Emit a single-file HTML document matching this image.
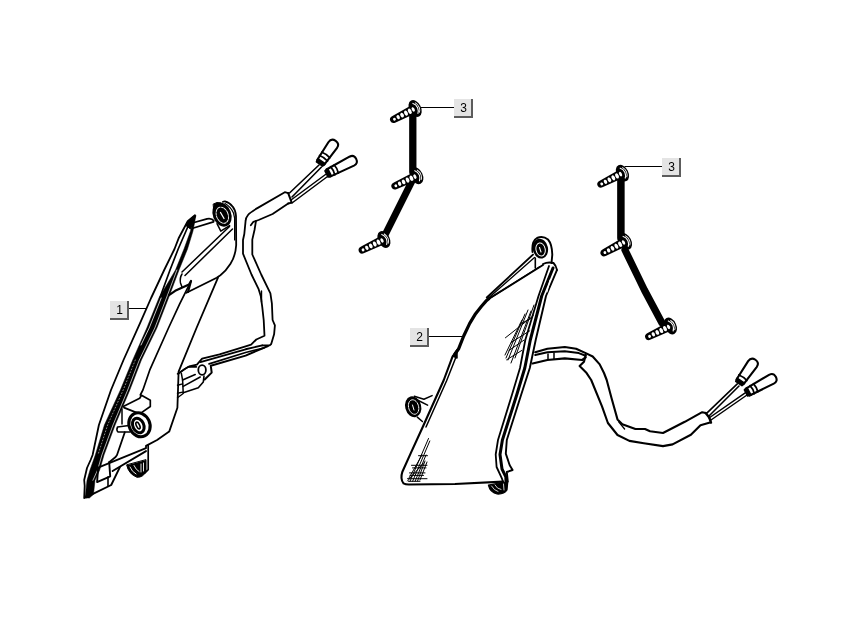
<!DOCTYPE html>
<html><head><meta charset="utf-8">
<style>
html,body{margin:0;padding:0;background:#fff;width:854px;height:620px;overflow:hidden}
svg{position:absolute;left:0;top:0}
.lbl{position:absolute;box-sizing:border-box;width:19px;height:19px;padding-left:2px;background:#e4e4e4;border-right:2px solid #5c5c5c;border-bottom:2px solid #5c5c5c;font-family:"Liberation Sans",sans-serif;font-size:12px;line-height:19px;text-align:center;color:#000;will-change:transform}
</style></head><body>
<svg width="854" height="620" viewBox="0 0 854 620">

<g fill="none" stroke="#000" stroke-linecap="round" stroke-linejoin="round">
<!-- ===== PART 1 ===== -->
<!-- blade outer line -->
<path d="M194.9,215.3 L187.7,221.3 L178.9,237.7 L174.5,249 L164.2,270 L151.1,298 L140.5,322.2 L123.5,360 L111,390 L98.9,425 L92.6,455 L90.6,460 L87,468 L84.2,480 L84.7,486 L84.2,498" stroke-width="1.8"/>
<!-- line 2 -->
<path d="M189.5,223 L178.2,249 L170,270 L159.8,298" stroke-width="1.7"/>
<!-- band -->
<path d="M194.3,216 L190.5,231 L184,249 L175.5,270 L158.9,298 L146.8,328 L132.7,360 L120.4,390 L104.4,425 L95.3,455 L90,470 L87,480.3 L85.5,494.3 L84.5,498 L89.4,498 L93.5,494.3 L95,480.3 L99.7,470 L104,455 L115.1,425 L129.8,390 L141.4,360 L156.9,328 L168.5,298 L179,270 L187.5,249 L193,231 L195.8,216 Z" fill="#000" stroke="#000" stroke-width="0.5"/>
<path d="M176.9,270 L166.4,298 L154.8,328 L139.3,360 L127.7,390 L113.0,425 L101.9,455 L97.6,470 L92.9,480.3" stroke="#fff" stroke-width="0.7"/>
<path d="M161.2,298 L149.2,328 L141,345" stroke="#fff" stroke-width="0.8"/>
<path d="M135.3,360 L123.2,390 L107.6,425 L97.9,455" stroke="#fff" stroke-width="0.55" stroke-dasharray="1 2.2"/>
<!-- line 3 -->
<path d="M190.9,281.4 L179.7,303.8 L168.5,328 L149.7,370.2 L142.9,390 L140.3,395" stroke-width="1.7"/>
<!-- notch -->
<path d="M169,295.2 L175.2,290.8 L189,284.5 L191,281 L188,292" stroke-width="2.2"/>
<path d="M182,274 Q179.5,278 180.5,283 L182,287" stroke-width="1.5"/>
<!-- top cylinder bar near tip -->
<path d="M194,222.5 L207,218.8 Q212,218 213.8,220.8" stroke-width="1.8"/>
<path d="M193.5,228 L213.5,221.8" stroke-width="1.8"/>
<path d="M194.9,215.3 L187.7,221.3 L185.8,225.5 L190.5,229 L195.5,216 Z" fill="#000" stroke="#000" stroke-width="1"/>
<!-- eye tab outline -->
<path d="M223,201.8 Q224,201.3 225,201.4 Q229.5,202.5 232.7,206.7 Q235.5,210 236,216 L236.2,245 Q235.5,256 230.5,263.8 Q226,271 220.4,275.2 L216.7,277.7 L186.5,292.8" stroke-width="1.8"/>
<path d="M225,203.5 Q231,207 233.5,213 L234.6,218 L234.6,240" stroke-width="1.2"/>
<!-- eye ring -->
<ellipse cx="222" cy="214.6" rx="9.2" ry="12.4" transform="rotate(-22 222 214.6)" fill="#000" stroke="none"/>
<path d="M213.5,204 L217,202.5 L221,203 L214,210 Z" fill="#000"/>
<ellipse cx="222.3" cy="215.2" rx="5.8" ry="8.4" transform="rotate(-22 222.3 215.2)" stroke="#fff" stroke-width="0.9" stroke-dasharray="2.5 1"/>
<path d="M220.5,212.5 L224,218.5" stroke="#fff" stroke-width="1.3"/>
<path d="M217,223.7 L220.8,231.2 L229.6,225.6" stroke-width="1.5"/>
<!-- grommet bar -->
<path d="M229.5,226.5 L182,272" stroke-width="1.5"/>
<path d="M232.5,229 L185,275.5" stroke-width="1.5"/>
<!-- body right edge -->
<path d="M218,277.7 L196.5,328 L178.6,371.7 L177.4,407.7 L169.2,431.6 L157.1,440 L146,445.9 L146,448.2 L98.1,467.6" stroke-width="1.8"/>
<!-- boss -->
<path d="M123.3,406.4 L139.7,398.2 L141.5,395.2 L150.3,400.2 L150.3,406.5 L139.7,413.9 L124,407.6" stroke-width="1.7"/>
<path d="M122,408.9 L122,424" stroke-width="1.5"/>
<ellipse cx="139.5" cy="424.8" rx="10.3" ry="12.3" transform="rotate(-25 139.5 424.8)" stroke-width="3.1" fill="#fff"/>
<ellipse cx="138.3" cy="425.5" rx="5.4" ry="7.6" transform="rotate(-25 138.3 425.5)" stroke-width="3"/>
<ellipse cx="138" cy="425.5" rx="1.6" ry="3.6" transform="rotate(-25 138 425.5)" stroke-width="1.6"/>
<path d="M117.6,427 L129,425.5 M118,432 L130,432 M117.6,427 Q116,430 118,432" stroke-width="1.6"/>
<!-- lower rail / bottom -->
<path d="M146,451.1 L112.6,471" stroke-width="1.9"/>
<path d="M148.2,445.2 L148.2,469.7 L144.5,473.4" stroke-width="1.7"/>
<path d="M126.7,465.2 Q128.5,474 137,477.3 Q143.5,477.5 146,471 L146,460 Z" fill="#000" stroke="#000" stroke-width="1"/>
<path d="M130,467 Q132,472 136,474 M134,465.5 Q136,470 139,471.5 M141,464 L141,472 M143.5,463 L143.5,471" stroke="#fff" stroke-width="0.9"/>
<path d="M124.8,432.3 L117,455 L115.6,457 L109.2,462.3" stroke-width="1.8"/>
<path d="M98.1,467.6 L97.1,482.1 L110.2,476.3 L109.2,462.3" stroke-width="1.9"/>
<path d="M119.9,467.1 L111.2,485 L93.5,493.7 L86,497.5" stroke-width="1.9"/>
<path d="M108,477 L108,486" stroke-width="1.6"/>
<!-- wire 1 sheath -->
<path d="M288.2,193.1 L284.8,192.2 L257.8,207.9 Q250,212.5 248.2,214.8 Q245.6,218 245.6,220.9 L244.3,234 L243,240 L243,253.7 L251.5,274.5 L258.5,288.8 L260.8,296.3 L262.3,307.4 L263.7,320 L264.5,335.8 L256.3,339.5 L251.1,344.7 L245.6,346.4 L219.5,354.3 L202.1,358.6 L196.9,364.7 L189.1,366.5 L184.7,369.1 L178.5,373.5" stroke-width="1.8"/>
<path d="M288.2,203.5 L272.6,214 L258.6,220 L253.4,221.8 L250.8,225.3" stroke-width="1.8"/>
<path d="M256,220.9 L254.5,230 L252.3,239.6 L252.3,254.5 L261.2,274.5 L270.4,293.3 L271.9,303.7 L272.6,320 L274.9,325.4 L274.1,334.3 L271.2,344 L269.7,345.4 L262.3,345.4" stroke-width="1.8"/>
<path d="M288.2,193.1 L291.7,202.6 L288.2,203.5" stroke-width="2"/>
<path d="M261.5,291 L261.5,302" stroke-width="1.4"/>
<!-- wire 1 thin cable -->
<path d="M262.3,345.4 L245.6,349.3 L200.4,362.1" stroke-width="1.9"/>
<path d="M264,348 L245.6,352.5 L209.1,363.9" stroke-width="1.7"/>
<path d="M268,346 L245.6,355.6 L210.8,365.8 L211.7,372.6 L204.7,379.5" stroke-width="2"/>
<!-- connector grommet -->
<path d="M177.5,373.8 L188.2,366.9 L196.4,366.9" stroke-width="1.6"/>
<ellipse cx="202.1" cy="370" rx="3.8" ry="4.8" stroke-width="1.8"/>
<path d="M181.3,373.2 L182.6,380.1 L183.2,392.7" stroke-width="1.5"/>
<path d="M182.6,380.1 L195.2,374.5 M183.2,386.4 L200.2,377 M183.2,392.7 L198.3,387.7 L203.3,382 L204,376" stroke-width="1.6"/>
<path d="M177.5,385.2 L182.6,383.9 M177.5,393.3 L182.6,392.1 M177.5,397.7 L183.2,393.5" stroke-width="1.4"/>
<!-- wires to plugs -->
<path d="M289.5,193 L319,165 M292,197 L321.5,167" stroke-width="1.6"/>
<path d="M291,200 L325.5,174.5 M292,203 L327.5,176.5" stroke-width="1.5"/>
<!-- plugs -->
<g transform="translate(319.5,164) rotate(-55)"><path d="M2.0,-4.2 L22.9,-5.2 Q28.2,-5.2 28.2,0 Q28.2,5.2 22.9,5.2 L2.0,4.2 Z" fill="#fff" stroke="#000" stroke-width="2.1"/><path d="M0,-3.8 L3.5,-4.5 L3.5,4.5 L0,3.8 Z" fill="#000" stroke="#000" stroke-width="1.5"/><path d="M7.0,-4.8 Q8.3,0 7.0,4.8" stroke="#000" stroke-width="1.8"/><path d="M11.0,-4.8 Q12.3,0 11.0,4.8" stroke="#000" stroke-width="1.8"/></g>
<g transform="translate(326.5,174) rotate(-27)"><path d="M2.0,-4.0 L28.3,-5.0 Q33.3,-5.0 33.3,0 Q33.3,5.0 28.3,5.0 L2.0,4.0 Z" fill="#fff" stroke="#000" stroke-width="2.1"/><path d="M0,-3.5 L3.5,-4.2 L3.5,4.2 L0,3.5 Z" fill="#000" stroke="#000" stroke-width="1.5"/><path d="M7.0,-4.5 Q8.3,0 7.0,4.5" stroke="#000" stroke-width="1.8"/><path d="M11.0,-4.5 Q12.3,0 11.0,4.5" stroke="#000" stroke-width="1.8"/></g>
<path d="M129,308.5 L146,308.5 M429,336.5 L462,336.5" stroke-width="1" stroke-linecap="butt"/>
<!-- ===== SCREW SET 3 (middle) ===== -->
<path d="M412.8,116 L412.8,172" stroke-width="7.3"/>
<path d="M412,181 L384.5,236" stroke-width="7"/>
<path d="M420.5,107.5 L454,107.5" stroke-width="1" stroke-linecap="butt"/>
<!-- ===== SCREW SET 3 (right) ===== -->
<path d="M620.9,180 L620.9,238" stroke-width="7.5"/>
<path d="M625,250 L644.4,290 L662,323" stroke-width="7.2"/>
<path d="M624.5,166.5 L662,166.5" stroke-width="1" stroke-linecap="butt"/>
<!-- ===== PART 2 ===== -->
<!-- top eye tab -->
<path d="M532.5,252 Q531.5,241 537,238 Q543,235.5 548,239.5 Q552,244 552.3,254.6 L551.5,263" stroke-width="1.9"/>
<ellipse cx="540.4" cy="248.6" rx="7.6" ry="10" transform="rotate(-12 540.4 248.6)" fill="#000" stroke="none"/>
<ellipse cx="540.6" cy="249.5" rx="4.6" ry="6.6" transform="rotate(-12 540.6 249.5)" stroke="#fff" stroke-width="1"/>
<path d="M539.5,247.5 L541,252" stroke="#fff" stroke-width="1.1"/>
<path d="M535.3,258 L535.3,268.1" stroke-width="1.6"/>
<!-- rim -->
<path d="M533,254.6 L486.8,297.5" stroke-width="1.9"/>
<path d="M534.5,257.5 L489,297.5" stroke-width="1.3"/>
<path d="M543,265 L489,298.6" stroke-width="1.9"/>
<path d="M540,266.5 L488,299.5" stroke-width="1.2"/>
<path d="M543,264 Q548,261.5 553.5,263 Q556,265.5 557,270" stroke-width="1.9"/>
<!-- left outline thick -->
<path d="M489,298.6 L486,301.1 L481.5,306.3 L475.6,313.7 L469.7,323.4 L463.7,336 L458.6,348.8 L455,354" stroke-width="3.2"/>
<path d="M458.6,348.8 L452.6,356.3 L443.8,380 L423.2,426 L411,452.6 L402.4,471.7 Q400,479 403.5,483.4 Q405.5,484.5 408.8,484.5 L455,484 L503,481.6" stroke-width="2.1"/>
<path d="M456,357 L446.5,381 L426,427" stroke-width="1.5"/>
<path d="M457,350 L453,356 L457,358 Z" fill="#000" stroke-width="1.5"/>
<!-- right edge three lines -->
<path d="M549,266 L538.5,296 L525.3,340 L520,368 L512.2,394 L498,440 L495.7,454.5 L496.6,467 L502,478.7 L503,481.6" stroke-width="1.8"/>
<path d="M553,268 L541.7,296 L530.3,340 L524.8,368 L517,394 L502.4,440 L500,454.5 L502,469 L505.8,476.8 L506,481" stroke-width="3"/>
<path d="M556.8,270.4 L546,296 L535.7,340 L529.8,368 L521.4,394 L506.8,440 L505.8,453.6 L509.7,465.2 L512.6,470 L506.8,472 L507.8,481.6" stroke-width="1.9"/>
<path d="M550,280 L547,292 M548.5,298 L545,312" stroke="#fff" stroke-width="1"/>
<!-- left eye -->
<path d="M414.3,396.3 L423.9,399.3 L432.1,395.6 M417.3,400 L427.6,405.2 M417.3,417.1 L422.4,421.5" stroke-width="1.5"/>
<ellipse cx="413.2" cy="406.7" rx="8" ry="10.6" transform="rotate(-15 413.2 406.7)" fill="#000" stroke="none"/>
<ellipse cx="413.6" cy="407" rx="5" ry="7.4" transform="rotate(-15 413.6 407)" stroke="#fff" stroke-width="0.9" stroke-dasharray="2 1"/>
<path d="M412.5,405 L414,410" stroke="#fff" stroke-width="1"/>
<!-- bottom tab -->
<path d="M488.4,485.2 Q490,492.5 497,494 Q504,494.5 507,490 L507.8,481.6 L499,483 Z" fill="#000" stroke="#000" stroke-width="1.2"/>
<path d="M491.5,486 Q494,490.5 498,491.5 M495,485 Q497,489 501,489.5 M503.5,484 L504,490" stroke="#fff" stroke-width="0.8"/>
<!-- hatching -->
<g stroke-width="1">
<path d="M531,311 L511,363 M528,310 L508,360 M525,314 L506,358 M522,320 L505,355 M534,305 L515,358"/>
<path d="M505.4,337.8 L533.3,315.7 M511.2,342.4 L529.8,330.8 M508.9,350.5 L524,340.1 M506.6,359.8 L521.7,350.5 M520,324 L532,318"/>
<path d="M428.5,438.5 L410,481.3 M429.8,441 L412.6,481.3 M426,455 L415.1,481.3 M425,461 L417.5,481 M423.5,463 L407.5,481 M422,455 L409,478 M427,462 L420,480"/>
<path d="M418.5,455.7 L427.5,455.7 M411.5,465.3 L427,465.3 M412.5,467.9 L426,467.9 M409.5,472.9 L425,472.9 M410,475.4 L423.5,475.4 M407.5,478.7 L427,478.7 M408.5,481.3 L420,481.3"/>
</g>
<!-- wire 2 -->
<path d="M535.2,352.2 L547.4,348.7 L564.8,347 L576.1,348.7 L585.7,353.1 L592.7,356.5 L599.7,364.4 L604,373 L606.7,380 L611.5,398 L617.5,419.4 L622.3,424.2 L635.4,429 L645,429 L650,431.3 L663,433 L684.8,421.8 L702.2,412.2 L705.7,413.1" stroke-width="2.1"/>
<path d="M535.2,355 L547.4,352.2 L564.8,351.3 L578.8,353.1 L585.7,355.7" stroke-width="2"/>
<path d="M532.6,363.5 L547.4,360 L564.8,358.3 L582.2,360 L585.7,357.4" stroke-width="2.2"/>
<path d="M585.7,354.8 L584,361.8 L579.6,366.1 L586.6,373.1 L591.2,380 L602,406.3 L607.9,423 L617.5,435 L629.4,440.9 L643.8,443.3 L663,446.1 L672.6,444.4 L690.9,434.8 L700.5,425.2 L710,422.6" stroke-width="2.1"/>
<path d="M705.7,413.1 L709.2,417.4 L711,422.6" stroke-width="2.4"/>
<path d="M548,354 L548,359 M554,353 L554,359" stroke-width="1.5"/>
<path d="M618.7,421.8 L624.6,429" stroke-width="1.3"/>
<path d="M706.8,413.2 L737.3,383.9 M709,416 L739,386" stroke-width="1.6"/>
<path d="M709,418 L745.2,392.9 M711,420 L747,395" stroke-width="1.5"/>
<g transform="translate(738.8,383.5) rotate(-55)"><path d="M2.0,-4.2 L23.7,-5.2 Q29.0,-5.2 29.0,0 Q29.0,5.2 23.7,5.2 L2.0,4.2 Z" fill="#fff" stroke="#000" stroke-width="2.1"/><path d="M0,-3.8 L3.5,-4.5 L3.5,4.5 L0,3.8 Z" fill="#000" stroke="#000" stroke-width="1.5"/><path d="M7.0,-4.8 Q8.3,0 7.0,4.8" stroke="#000" stroke-width="1.8"/></g>
<g transform="translate(746,393) rotate(-28.5)"><path d="M2.0,-4.0 L28.9,-5.0 Q33.9,-5.0 33.9,0 Q33.9,5.0 28.9,5.0 L2.0,4.0 Z" fill="#fff" stroke="#000" stroke-width="2.1"/><path d="M0,-3.5 L3.5,-4.2 L3.5,4.2 L0,3.5 Z" fill="#000" stroke="#000" stroke-width="1.5"/><path d="M7.0,-4.5 Q8.3,0 7.0,4.5" stroke="#000" stroke-width="1.8"/><path d="M11.0,-4.5 Q12.3,0 11.0,4.5" stroke="#000" stroke-width="1.8"/></g>
</g>

<g transform="translate(413.5,109.3) rotate(-27)">
<path d="M2,-4.6 L-21.8,-3.6 Q-26,-3.5 -26,0 Q-26,3.5 -21.8,3.6 L2,4.6 Z" fill="#000" stroke="none"/>
<ellipse cx="1.8" cy="0" rx="5.9" ry="8.9" fill="#000" stroke="none"/>
<g fill="#fff" stroke="none">
<ellipse cx="-21.5" cy="0.2" rx="1.4" ry="1.5"/>
<ellipse cx="-17.2" cy="0" rx="1.6" ry="2.2"/>
<ellipse cx="-12.8" cy="0" rx="1.7" ry="2.5"/>
<ellipse cx="-8.4" cy="0" rx="1.7" ry="2.7"/>
<ellipse cx="-4.2" cy="0" rx="1.7" ry="2.8"/>
<ellipse cx="-0.3" cy="0" rx="1.4" ry="2.4"/>
</g>
<path d="M1.8,-5.8 Q4.6,-3 4.4,0.5 Q4,4 1.8,6" fill="none" stroke="#fff" stroke-width="1.1"/>
<path d="M4.3,-5.2 Q6.3,-2.5 6,1 Q5.6,4 3.8,5.6" fill="none" stroke="#fff" stroke-width="0.9"/>
</g>
<g transform="translate(415.2,176.5) rotate(-25)">
<path d="M2,-4.6 L-21.8,-3.6 Q-26,-3.5 -26,0 Q-26,3.5 -21.8,3.6 L2,4.6 Z" fill="#000" stroke="none"/>
<ellipse cx="1.8" cy="0" rx="5.9" ry="8.9" fill="#000" stroke="none"/>
<g fill="#fff" stroke="none">
<ellipse cx="-21.5" cy="0.2" rx="1.4" ry="1.5"/>
<ellipse cx="-17.2" cy="0" rx="1.6" ry="2.2"/>
<ellipse cx="-12.8" cy="0" rx="1.7" ry="2.5"/>
<ellipse cx="-8.4" cy="0" rx="1.7" ry="2.7"/>
<ellipse cx="-4.2" cy="0" rx="1.7" ry="2.8"/>
<ellipse cx="-0.3" cy="0" rx="1.4" ry="2.4"/>
</g>
<path d="M1.8,-5.8 Q4.6,-3 4.4,0.5 Q4,4 1.8,6" fill="none" stroke="#fff" stroke-width="1.1"/>
<path d="M4.3,-5.2 Q6.3,-2.5 6,1 Q5.6,4 3.8,5.6" fill="none" stroke="#fff" stroke-width="0.9"/>
</g>
<g transform="translate(382.3,240.3) rotate(-26)">
<path d="M2,-4.6 L-21.8,-3.6 Q-26,-3.5 -26,0 Q-26,3.5 -21.8,3.6 L2,4.6 Z" fill="#000" stroke="none"/>
<ellipse cx="1.8" cy="0" rx="5.9" ry="8.9" fill="#000" stroke="none"/>
<g fill="#fff" stroke="none">
<ellipse cx="-21.5" cy="0.2" rx="1.4" ry="1.5"/>
<ellipse cx="-17.2" cy="0" rx="1.6" ry="2.2"/>
<ellipse cx="-12.8" cy="0" rx="1.7" ry="2.5"/>
<ellipse cx="-8.4" cy="0" rx="1.7" ry="2.7"/>
<ellipse cx="-4.2" cy="0" rx="1.7" ry="2.8"/>
<ellipse cx="-0.3" cy="0" rx="1.4" ry="2.4"/>
</g>
<path d="M1.8,-5.8 Q4.6,-3 4.4,0.5 Q4,4 1.8,6" fill="none" stroke="#fff" stroke-width="1.1"/>
<path d="M4.3,-5.2 Q6.3,-2.5 6,1 Q5.6,4 3.8,5.6" fill="none" stroke="#fff" stroke-width="0.9"/>
</g>
<g transform="translate(620.8,174) rotate(-27)">
<path d="M2,-4.6 L-21.8,-3.6 Q-26,-3.5 -26,0 Q-26,3.5 -21.8,3.6 L2,4.6 Z" fill="#000" stroke="none"/>
<ellipse cx="1.8" cy="0" rx="5.9" ry="8.9" fill="#000" stroke="none"/>
<g fill="#fff" stroke="none">
<ellipse cx="-21.5" cy="0.2" rx="1.4" ry="1.5"/>
<ellipse cx="-17.2" cy="0" rx="1.6" ry="2.2"/>
<ellipse cx="-12.8" cy="0" rx="1.7" ry="2.5"/>
<ellipse cx="-8.4" cy="0" rx="1.7" ry="2.7"/>
<ellipse cx="-4.2" cy="0" rx="1.7" ry="2.8"/>
<ellipse cx="-0.3" cy="0" rx="1.4" ry="2.4"/>
</g>
<path d="M1.8,-5.8 Q4.6,-3 4.4,0.5 Q4,4 1.8,6" fill="none" stroke="#fff" stroke-width="1.1"/>
<path d="M4.3,-5.2 Q6.3,-2.5 6,1 Q5.6,4 3.8,5.6" fill="none" stroke="#fff" stroke-width="0.9"/>
</g>
<g transform="translate(623.8,242.3) rotate(-28)">
<path d="M2,-4.6 L-21.8,-3.6 Q-26,-3.5 -26,0 Q-26,3.5 -21.8,3.6 L2,4.6 Z" fill="#000" stroke="none"/>
<ellipse cx="1.8" cy="0" rx="5.9" ry="8.9" fill="#000" stroke="none"/>
<g fill="#fff" stroke="none">
<ellipse cx="-21.5" cy="0.2" rx="1.4" ry="1.5"/>
<ellipse cx="-17.2" cy="0" rx="1.6" ry="2.2"/>
<ellipse cx="-12.8" cy="0" rx="1.7" ry="2.5"/>
<ellipse cx="-8.4" cy="0" rx="1.7" ry="2.7"/>
<ellipse cx="-4.2" cy="0" rx="1.7" ry="2.8"/>
<ellipse cx="-0.3" cy="0" rx="1.4" ry="2.4"/>
</g>
<path d="M1.8,-5.8 Q4.6,-3 4.4,0.5 Q4,4 1.8,6" fill="none" stroke="#fff" stroke-width="1.1"/>
<path d="M4.3,-5.2 Q6.3,-2.5 6,1 Q5.6,4 3.8,5.6" fill="none" stroke="#fff" stroke-width="0.9"/>
</g>
<g transform="translate(668.8,326.8) rotate(-26)">
<path d="M2,-4.6 L-21.8,-3.6 Q-26,-3.5 -26,0 Q-26,3.5 -21.8,3.6 L2,4.6 Z" fill="#000" stroke="none"/>
<ellipse cx="1.8" cy="0" rx="5.9" ry="8.9" fill="#000" stroke="none"/>
<g fill="#fff" stroke="none">
<ellipse cx="-21.5" cy="0.2" rx="1.4" ry="1.5"/>
<ellipse cx="-17.2" cy="0" rx="1.6" ry="2.2"/>
<ellipse cx="-12.8" cy="0" rx="1.7" ry="2.5"/>
<ellipse cx="-8.4" cy="0" rx="1.7" ry="2.7"/>
<ellipse cx="-4.2" cy="0" rx="1.7" ry="2.8"/>
<ellipse cx="-0.3" cy="0" rx="1.4" ry="2.4"/>
</g>
<path d="M1.8,-5.8 Q4.6,-3 4.4,0.5 Q4,4 1.8,6" fill="none" stroke="#fff" stroke-width="1.1"/>
<path d="M4.3,-5.2 Q6.3,-2.5 6,1 Q5.6,4 3.8,5.6" fill="none" stroke="#fff" stroke-width="0.9"/>
</g>
</svg>
<div class="lbl" style="left:110px;top:301px">1</div>
<div class="lbl" style="left:410px;top:328px">2</div>
<div class="lbl" style="left:454px;top:99px">3</div>
<div class="lbl" style="left:662px;top:158px">3</div>
</body></html>
